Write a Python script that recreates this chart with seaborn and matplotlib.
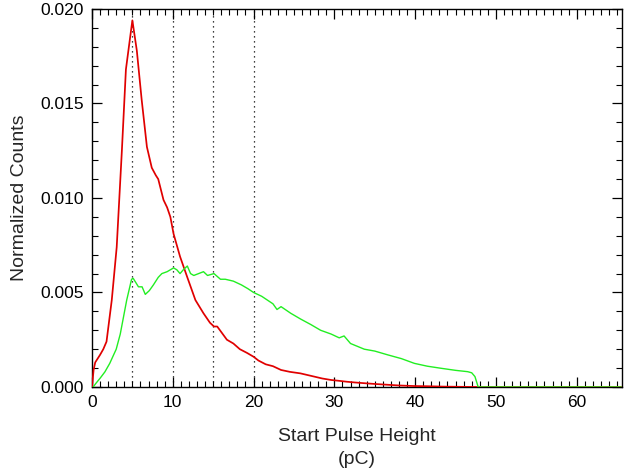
import matplotlib
matplotlib.use("Agg")
import matplotlib.pyplot as plt
import seaborn as sns
import pandas as pd
from matplotlib.ticker import MultipleLocator

# Start pulse-height distributions (normalized counts per bin)
red_x = [0, 0.2, 0.4, 1.0, 1.4, 1.8, 2.45, 3.06, 3.7, 4.2, 5.0, 5.55, 6.15, 6.8,
         7.4, 7.9, 8.2, 8.85, 9.3, 9.7, 10.1, 10.9, 11.8, 12.8, 13.8, 14.6, 15.1,
         15.5, 16.7, 17.5, 18.3, 19.2, 20.0, 20.6, 21.5, 22.4, 23.4, 24.5, 25.8,
         26.5, 27.5, 28.5, 29.6, 30.5, 31.5, 32.5, 33.7, 35.0, 36.5, 38.0, 39.9,
         41.5, 43.5, 45.5, 47.5, 48.0, 65.5]
red_y = [0.0, 0.0009, 0.0013, 0.0017, 0.0020, 0.0024, 0.0046, 0.0074, 0.0125,
         0.0168, 0.0194, 0.0178, 0.0152, 0.0127, 0.0116, 0.0112, 0.0110, 0.0099,
         0.0095, 0.0090, 0.0081, 0.0069, 0.0058, 0.0046, 0.0039, 0.0034, 0.0032,
         0.0032, 0.0025, 0.0023, 0.0020, 0.0018, 0.0016, 0.0014, 0.0012, 0.0011,
         0.0009, 0.0008, 0.00072, 0.00065, 0.00055, 0.00045, 0.00037, 0.00033,
         0.00028, 0.00024, 0.00020, 0.00016, 0.00012, 0.00008, 0.00005, 0.00004,
         0.00002, 0.00001, 0.0, 0.0, 0.0]

green_x = [0.15, 0.5, 1.0, 1.6, 2.2, 3.0, 3.5, 4.3, 4.9, 5.1, 5.75, 6.2, 6.6,
           7.1, 7.6, 8.2, 8.65, 9.3, 10.1, 10.5, 10.9, 11.3, 11.8, 12.2, 12.6,
           13.2, 13.8, 14.3, 15.1, 15.9, 16.5, 17.5, 18.5, 19.3, 20.0, 21.0,
           21.7, 22.4, 22.9, 23.4, 24.6, 25.8, 27.1, 28.3, 29.6, 30.6, 31.2,
           31.6, 32.0, 33.7, 35.0, 36.6, 38.3, 39.9, 41.5, 43.2, 45.0, 46.5,
           47.0, 47.4, 47.8, 65.5]
green_y = [0.0, 0.0002, 0.00046, 0.0008, 0.00125, 0.0020, 0.0028, 0.0046,
           0.0057, 0.00575, 0.0053, 0.0053, 0.0049, 0.0051, 0.0054, 0.0058,
           0.0060, 0.0061, 0.0063, 0.0062, 0.0060, 0.0062, 0.0064, 0.0060,
           0.0059, 0.0060, 0.0061, 0.0059, 0.0060, 0.0057, 0.0057, 0.0056,
           0.0054, 0.0052, 0.0050, 0.0048, 0.0046, 0.0044, 0.0041, 0.00425,
           0.0039, 0.0036, 0.0033, 0.0030, 0.0028, 0.0026, 0.0027, 0.0025,
           0.0023, 0.0020, 0.0019, 0.0017, 0.0015, 0.00125, 0.0011, 0.00099,
           0.00088, 0.00081, 0.00075, 0.00055, 0.0, 0.0]

marker_x = [5, 10, 15, 20]

sns.set_style("ticks")
plt.rcParams["font.family"] = ["Liberation Sans", "DejaVu Sans"]

fig = plt.figure(figsize=(6.24, 4.75), dpi=100)
ax = fig.add_axes([0.1474, 0.1853, 0.8494, 0.7958])

red = pd.DataFrame({"x": red_x, "y": red_y})
green = pd.DataFrame({"x": green_x, "y": green_y})

for xv in marker_x:
    ax.axvline(xv, color="black", linestyle=(0, (1, 3)), linewidth=0.9, zorder=1)

sns.lineplot(data=red, x="x", y="y", ax=ax, color="#e00000", linewidth=1.25,
             estimator=None, sort=False, zorder=3)
sns.lineplot(data=green, x="x", y="y", ax=ax, color="#22ee22", linewidth=1.0,
             estimator=None, sort=False, zorder=4)

ax.set_xlim(0, 65.6)
ax.set_ylim(0, 0.020)
ax.xaxis.set_major_locator(MultipleLocator(10))
ax.xaxis.set_minor_locator(MultipleLocator(1))
ax.yaxis.set_major_locator(MultipleLocator(0.005))
ax.yaxis.set_minor_locator(MultipleLocator(0.001))
ax.yaxis.set_major_formatter(matplotlib.ticker.FormatStrFormatter("%.3f"))

ax.tick_params(which="both", direction="in", top=True, right=True,
               colors="black", labelsize=12.5)
ax.tick_params(which="major", length=7, width=0.9, pad=6)
ax.tick_params(which="minor", length=4, width=0.8)
for s in ax.spines.values():
    s.set_visible(True)
    s.set_color("black")
    s.set_linewidth(1.0)

ax.set_xlabel("Start Pulse Height\n(pC)", fontsize=14, labelpad=13,
              linespacing=1.45)
ax.set_ylabel("Normalized Counts", fontsize=14, labelpad=9)

fig.savefig("out.png", dpi=100)
